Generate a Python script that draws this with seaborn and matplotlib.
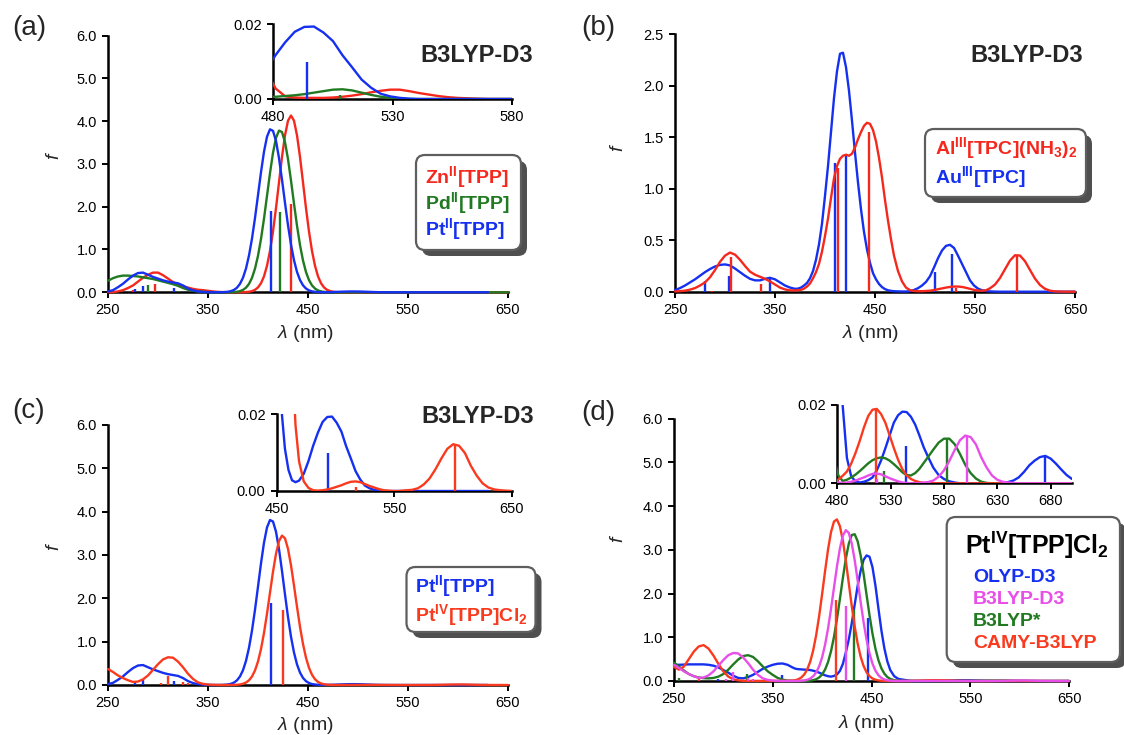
import numpy as np
import pandas as pd
import matplotlib
matplotlib.use("Agg")
import matplotlib.pyplot as plt
import seaborn as sns
from matplotlib.patches import FancyBboxPatch
from matplotlib.transforms import IdentityTransform

# ---------------- data ----------------
# wavelength sampling grid (nm) at which the spectra were read: 25 + 33 + 23 + 28 points
LAMBDA = np.concatenate([np.arange(250, 371, 5), np.arange(373, 470, 3),
                         np.arange(473, 562, 4), np.arange(565, 701, 5)]).astype(float)
NA = np.nan  # no computed value (spectrum not drawn there)

# (a) Zn(II)[TPP], Pd(II)[TPP], Pt(II)[TPP]  (Pt(II) also in (c))
ZN_TPP = [
    0.00, 0.005, 0.02, 0.05, 0.10,
    0.16, 0.25, 0.34, 0.41, 0.46,
    0.46, 0.40, 0.32, 0.24, 0.18,
    0.14, 0.11, 0.08, 0.06, 0.05,
    0.035, 0.02, 0.01, 0.005, 0.002,
    0.001, 0.001, 0.001, 0.001, 0.002, 0.005, 0.012, 0.027, 0.058, 0.114, 0.212,
    0.373, 0.620, 0.966, 1.419, 1.966, 2.568, 3.163, 3.668, 4.009, 4.130, 4.009,
    3.668, 3.163, 2.568, 1.966, 1.419, 0.966, 0.620, 0.373, 0.212, 0.114, 0.058,
    0.021, 0.0075, 0.0028, 0.0007, 0.0004, 0.0003, 0.0003, 0.0003,
    0.0004, 0.0006, 0.0009, 0.0013, 0.0018, 0.0022, 0.0025, 0.0025,
    0.0021, 0.0016, 0.0012, 0.0008, 0.0005, 0.0003, 0.0002,
    0.0001, 0, 0, 0, 0, 0, 0,
    0, 0, 0, 0, 0, 0, 0,
    0, 0, 0, 0, 0, 0, 0,
    0, 0, 0, 0, 0, 0, 0,
]
PD_TPP = [
    0.27, 0.33, 0.37, 0.39, 0.39,
    0.38, 0.37, 0.35, 0.33, 0.31,
    0.28, 0.25, 0.22, 0.19, 0.15,
    0.10, 0.06, 0.035, 0.02, 0.01,
    0.005, 0.002, 0.001, 0.001, 0.001,
    0.0023, 0.0056, 0.0127, 0.0274, 0.0557, 0.108, 0.196, 0.338, 0.553, 0.853, 1.246,
    1.722, 2.252, 2.785, 3.259, 3.608, 3.778, 3.744, 3.509, 3.112, 2.611, 2.072,
    1.556, 1.105, 0.743, 0.472, 0.284, 0.161, 0.087, 0.044, 0.021, 0.0097, 0.0042,
    0.0014, 0.0006, 0.0006, 0.0008, 0.0010, 0.0013, 0.0017, 0.0021,
    0.0025, 0.0026, 0.0023, 0.0017, 0.0011, 0.0006, 0.0003, 0.0001,
    0, 0, 0, 0, 0, 0, 0,
    0, 0, 0, 0, 0, 0, 0,
    0, 0, 0, 0, 0, 0, 0,
    0, 0, 0, 0, 0, 0, 0,
    0, 0, 0, 0, 0, 0, 0,
]
PT_TPP = [
    0.02, 0.05, 0.12, 0.20, 0.30,
    0.39, 0.45, 0.46, 0.41, 0.36,
    0.32, 0.28, 0.25, 0.23, 0.21,
    0.16, 0.09, 0.045, 0.02, 0.008,
    0.003, 0.001, 0.001, 0.003, 0.013,
    0.0276, 0.0562, 0.108, 0.198, 0.341, 0.557, 0.860, 1.256, 1.736, 2.269, 2.807,
    3.285, 3.636, 3.808, 3.773, 3.537, 3.136, 2.631, 2.088, 1.568, 1.114, 0.749,
    0.476, 0.287, 0.163, 0.088, 0.045, 0.0215, 0.011, 0.0055, 0.0028, 0.0023, 0.0027,
    0.0045, 0.0078, 0.0118, 0.0152, 0.0180, 0.0193, 0.0194, 0.0178,
    0.0155, 0.0117, 0.0085, 0.0052, 0.0030, 0.0014, 0.0007, 0.0003,
    0.0001, 0, 0, 0, 0, 0, 0,
    0, 0, 0, 0, 0, 0, 0,
    0, 0, 0, 0, 0, 0, 0,
    NA, NA, NA, NA, NA, NA, NA,
    NA, NA, NA, NA, NA, NA, NA,
]

# (b) Al(III)[TPC](NH3)2 and Au(III)[TPC]
AL_TPC = [
    0.003, 0.005, 0.01, 0.02, 0.035,
    0.06, 0.09, 0.14, 0.21, 0.29,
    0.35, 0.38, 0.36, 0.31, 0.25,
    0.195, 0.165, 0.145, 0.125, 0.10,
    0.07, 0.04, 0.022, 0.013, 0.012,
    0.014, 0.018, 0.03, 0.05, 0.08, 0.13, 0.19, 0.27, 0.39, 0.54, 0.71,
    0.91, 1.10, 1.22, 1.29, 1.32, 1.33, 1.32, 1.34, 1.40, 1.48, 1.55,
    1.61, 1.64, 1.63, 1.57, 1.46, 1.30, 1.11, 0.89, 0.69, 0.51, 0.35,
    0.20, 0.10, 0.04, 0.015, 0.007, 0.005, 0.005, 0.007,
    0.01, 0.016, 0.024, 0.032, 0.040, 0.046, 0.05, 0.05,
    0.046, 0.038, 0.028, 0.018, 0.011, 0.009, 0.014,
    0.033, 0.069, 0.133, 0.218, 0.302, 0.354, 0.351,
    0.296, 0.211, 0.127, 0.065, 0.028, 0.010, 0.003,
    0.001, 0, 0, 0, 0, 0, 0,
    0, 0, 0, 0, 0, 0, 0,
]
AU_TPC = [
    0.016, 0.035, 0.06, 0.09, 0.12,
    0.155, 0.19, 0.22, 0.245, 0.26,
    0.265, 0.255, 0.225, 0.19, 0.155,
    0.125, 0.11, 0.11, 0.125, 0.135,
    0.12, 0.09, 0.06, 0.04, 0.028,
    0.03, 0.04, 0.06, 0.085, 0.13, 0.20, 0.31, 0.46, 0.66, 0.93, 1.22,
    1.55, 1.88, 2.14, 2.31, 2.32, 2.18, 1.95, 1.66, 1.35, 1.06, 0.80,
    0.58, 0.41, 0.28, 0.18, 0.12, 0.075, 0.045, 0.025, 0.014, 0.008, 0.005,
    0.003, 0.002, 0.002, 0.005, 0.017, 0.034, 0.06, 0.095,
    0.15, 0.235, 0.325, 0.40, 0.445, 0.455, 0.425, 0.35,
    0.27, 0.19, 0.11, 0.06, 0.03, 0.014, 0.007,
    0.003, 0.001, 0, 0, 0, 0, 0,
    0, 0, 0, 0, 0, 0, 0,
    0, 0, 0, 0, 0, 0, 0,
    0, 0, 0, 0, 0, 0, 0,
]

# (c)/(d) Pt(IV)[TPP]Cl2 with B3LYP-D3
PT4_B3LYPD3 = [
    0.37, 0.30, 0.22, 0.16, 0.11,
    0.07, 0.08, 0.13, 0.22, 0.35,
    0.48, 0.59, 0.64, 0.63, 0.54,
    0.41, 0.26, 0.14, 0.06, 0.025,
    0.01, 0.004, 0.001, 0.001, 0.001,
    0.001, 0.0025, 0.0059, 0.0132, 0.0282, 0.057, 0.109, 0.196, 0.336, 0.543, 0.830,
    1.202, 1.646, 2.132, 2.613, 3.029, 3.322, 3.447, 3.384, 3.143, 2.761, 2.295,
    1.805, 1.343, 0.945, 0.629, 0.396, 0.236, 0.133, 0.071, 0.0358, 0.0171, 0.0077,
    0.0025, 0.0008, 0.0002, 0.0001, 0.0002, 0.0004, 0.0007, 0.0011,
    0.0015, 0.0020, 0.0024, 0.0025, 0.0023, 0.0018, 0.0013, 0.0009,
    0.0005, 0.0002, 0.0001, 0, 0, 0.0001, 0.0002,
    0.0003, 0.0007, 0.0017, 0.0033, 0.0057, 0.0085, 0.0110,
    0.0122, 0.0118, 0.0099, 0.0066, 0.0040, 0.0020, 0.0009,
    0.0004, 0.0002, 0.0001, 0, 0, 0, 0,
    0, 0, 0, 0, 0, 0, 0,
]

# (d) Pt(IV)[TPP]Cl2 with other functionals
PT4_OLYPD3 = [
    0.37, 0.37, 0.375, 0.38, 0.38,
    0.38, 0.38, 0.37, 0.35, 0.31,
    0.25, 0.19, 0.12, 0.07, 0.06,
    0.09, 0.14, 0.21, 0.28, 0.33,
    0.37, 0.395, 0.40, 0.37, 0.31,
    0.28, 0.27, 0.265, 0.26, 0.255, 0.25, 0.235, 0.215, 0.19, 0.16, 0.13,
    0.11, 0.10, 0.115, 0.15, 0.23, 0.39, 0.65, 0.95, 1.32, 1.75, 2.18,
    2.52, 2.77, 2.87, 2.84, 2.60, 2.18, 1.66, 1.16, 0.75, 0.45, 0.25,
    0.11, 0.05, 0.033, 0.020, 0.0065, 0.0018, 0.0005, 0.0002,
    0.0004, 0.0008, 0.0015, 0.0033, 0.0058, 0.0089, 0.0122, 0.0155,
    0.0174, 0.0183, 0.0182, 0.0170, 0.0150, 0.0122, 0.0092,
    0.0068, 0.0040, 0.0021, 0.0011, 0.0005, 0.0002, 0,
    0, 0, 0, 0, 0, 0, 0,
    0.0001, 0.0003, 0.0007, 0.0015, 0.0029, 0.0046, 0.0058,
    0.0067, 0.0070, 0.0063, 0.0050, 0.0035, 0.0021, 0.0011,
]
PT4_B3LYPS = [
    0.42, 0.33, 0.24, 0.16, 0.11,
    0.08, 0.065, 0.06, 0.07, 0.10,
    0.16, 0.26, 0.38, 0.49, 0.57,
    0.59, 0.55, 0.45, 0.33, 0.22,
    0.14, 0.07, 0.03, 0.01, 0.005,
    0.003, 0.002, 0.002, 0.002, 0.004, 0.0091, 0.020, 0.0413, 0.0808, 0.149, 0.262,
    0.433, 0.679, 1.007, 1.412, 1.874, 2.353, 2.794, 3.139, 3.337, 3.355, 3.192,
    2.873, 2.446, 1.970, 1.501, 1.082, 0.738, 0.476, 0.291, 0.168, 0.0917, 0.0474,
    0.018, 0.0062, 0.0020, 0.0006, 0.0009, 0.0015, 0.0022, 0.0031,
    0.0041, 0.0051, 0.0059, 0.0064, 0.0066, 0.0064, 0.0058, 0.0049,
    0.0039, 0.0028, 0.0021, 0.0020, 0.0026, 0.0037, 0.0052,
    0.0067, 0.0086, 0.0104, 0.0114, 0.0114, 0.0100, 0.0075,
    0.0047, 0.0026, 0.0012, 0.0004, 0.0001, 0, 0,
    0, 0, 0, 0, 0, 0, 0,
    0, 0, 0, 0, 0, 0, 0,
]
PT4_CAMY = [
    0.32, 0.26, 0.33, 0.50, 0.67,
    0.79, 0.82, 0.74, 0.58, 0.39,
    0.22, 0.10, 0.04, 0.015, 0.005,
    0.002, 0.002, 0.002, 0.002, 0.002,
    0.002, 0.002, 0.002, 0.004, 0.01,
    0.0198, 0.0413, 0.0814, 0.152, 0.267, 0.446, 0.705, 1.053, 1.487, 1.988, 2.514,
    3.008, 3.404, 3.645, 3.693, 3.539, 3.209, 2.752, 2.233, 1.715, 1.245, 0.856,
    0.556, 0.342, 0.199, 0.110, 0.057, 0.028, 0.0131, 0.0058, 0.0024, 0.0009, 0.0003,
    0.0002, 0.0005, 0.0010, 0.0019, 0.0030, 0.0050, 0.0077, 0.0108,
    0.0143, 0.0172, 0.0188, 0.0190, 0.0177, 0.0155, 0.0123, 0.0090,
    0.0060, 0.0036, 0.0020, 0.0011, 0.0006, 0.0003, 0.0001,
    0, 0, 0, 0, 0, 0, 0,
    0, 0, 0, 0, 0, 0, 0,
    0, 0, 0, 0, 0, 0, 0,
    0, 0, 0, 0, 0, 0, 0,
]

# stick spectra (transition wavelength, oscillator strength)
ZN_STK_X, ZN_STK_F = [275, 297, 433, 531], [0.06, 0.19, 2.06, 0.0008]
PD_STK_X, PD_STK_F = [290, 321, 422, 508], [0.16, 0.03, 1.88, 0.0012]
PT_STK_X, PT_STK_F = [277, 285, 316, 413, 494], [0.08, 0.14, 0.09, 1.89, 0.0100]
AL_STK_X, AL_STK_F = [287, 306, 336, 413, 444, 531, 592], [0.01, 0.34, 0.07, 1.20, 1.55, 0.04, 0.35]
AU_STK_X, AU_STK_F = [280, 304, 345, 410, 421, 510, 527], [0.10, 0.15, 0.14, 1.25, 1.32, 0.19, 0.37]
PT4D3_STK_X, PT4D3_STK_F = [303, 310, 325, 330, 424.5, 517, 601.3], [0.05, 0.20, 0.06, 0.04, 1.72, 0.0011, 0.0122]
CAMY_STK_X, CAMY_STK_F = [275, 414.2, 516], [0.08, 1.85, 0.0190]
B3S_STK_X, B3S_STK_F = [255, 324, 431.8, 524, 583.2], [0.08, 0.15, 1.62, 0.0031, 0.0114]
OLYP_STK_X, OLYP_STK_F = [295, 359, 446.3, 544, 675], [0.05, 0.14, 1.43, 0.0094, 0.0069]

# tick labels
X_TICKS_MAIN = [250, 350, 450, 550, 650]
Y_TICKS_6 = [0, 1, 2, 3, 4, 5, 6]
Y_TICKS_25 = [0, 0.5, 1.0, 1.5, 2.0, 2.5]
Y_TICKS_INSET = [0, 0.02]
X_TICKS_INSET_A = [480, 530, 580]
X_TICKS_INSET_C = [450, 550, 650]
X_TICKS_INSET_D = [480, 530, 580, 630, 680]

RED = "#F5281E"
RED2 = "#FA3A1E"
GREEN = "#217A21"
BLUE = "#1530F0"
MAGENTA = "#E84EE8"

# ---------------- style ----------------
sns.set_style("ticks")
plt.rcParams["font.family"] = ["Liberation Sans", "DejaVu Sans"]
plt.rcParams["mathtext.fontset"] = "custom"
plt.rcParams["mathtext.rm"] = "Liberation Sans"
plt.rcParams["mathtext.it"] = "Liberation Sans:italic"
plt.rcParams["mathtext.bf"] = "Liberation Sans:bold"

FW, FH = 1124, 735
fig = plt.figure(figsize=(FW / 100, FH / 100), dpi=100)
fig.patch.set_facecolor("white")


def px(x, y):
    return x / FW, 1 - y / FH


def add_axes(x0, x1, ytop, ybot):
    return fig.add_axes([x0 / FW, 1 - ybot / FH, (x1 - x0) / FW, (ybot - ytop) / FH])


def style(ax, xlim, ylim, xticks, yticks, yfmt):
    ax.set_xlim(*xlim)
    ax.set_ylim(*ylim)
    ax.set_xticks(xticks)
    ax.set_xticklabels([str(t) for t in xticks])
    ax.set_yticks(yticks)
    ax.set_yticklabels([yfmt.format(t) for t in yticks])
    for s in ["top", "right"]:
        ax.spines[s].set_visible(False)
    for s in ["left", "bottom"]:
        ax.spines[s].set_linewidth(1.8)
        ax.spines[s].set_color("black")
    ax.tick_params(direction="out", length=4, width=1.4, labelsize=10.5, pad=4,
                   colors="black")
    ax.set_facecolor("none")
    ax.set_xlabel("")
    ax.set_ylabel("")


def curve(ax, values, color, main):
    lam = LAMBDA
    y = np.asarray(values, float)
    keep = ~np.isnan(y)
    if main:
        keep &= lam <= 650
    df = pd.DataFrame({"wavelength": lam[keep], "f": y[keep]})
    sns.lineplot(data=df, x="wavelength", y="f", ax=ax, color=color, linewidth=1.7,
                 estimator=None, sort=False, legend=False, clip_on=not main, zorder=3)


def sticks(ax, xs, fs, color):
    ax.vlines(xs, 0, fs, colors=color, linewidth=1.7, zorder=3)


def legend_box(x0, y0, x1, y1, r=9, sh=6):
    shadow = FancyBboxPatch((x0 + sh, FH - y1 - sh), x1 - x0, y1 - y0,
                            boxstyle=f"round,pad=0,rounding_size={r}",
                            transform=IdentityTransform(), facecolor="#4f4f4f",
                            edgecolor="none", zorder=5)
    box = FancyBboxPatch((x0, FH - y1), x1 - x0, y1 - y0,
                         boxstyle=f"round,pad=0,rounding_size={r}",
                         transform=IdentityTransform(), facecolor="white",
                         edgecolor="#5e5e5e", linewidth=1.6, zorder=6)
    fig.add_artist(shadow)
    fig.add_artist(box)


def label(x, y, s, **kw):
    kw.setdefault("ha", "left")
    kw.setdefault("va", "center")
    fig.text(*px(x, y), s, zorder=7, **kw)


# ---------------- panel (a) ----------------
axA = add_axes(108, 508, 35.5, 292.3)
axAi = add_axes(273.3, 512, 24.3, 99)
for ax, main in [(axA, True), (axAi, False)]:
    for vals, sx, sf, col in [(ZN_TPP, ZN_STK_X, ZN_STK_F, RED),
                              (PD_TPP, PD_STK_X, PD_STK_F, GREEN),
                              (PT_TPP, PT_STK_X, PT_STK_F, BLUE)]:
        sticks(ax, sx, sf, col)
        curve(ax, vals, col, main)
style(axA, (250, 650), (0, 6), X_TICKS_MAIN, Y_TICKS_6, "{:.1f}")
style(axAi, (480, 580), (0, 0.02), X_TICKS_INSET_A, Y_TICKS_INSET, "{:.2f}")

# ---------------- panel (b) ----------------
axB = add_axes(675, 1075, 34.2, 291.7)
for vals, sx, sf, col in [(AU_TPC, AU_STK_X, AU_STK_F, BLUE),
                          (AL_TPC, AL_STK_X, AL_STK_F, RED)]:
    sticks(axB, sx, sf, col)
    curve(axB, vals, col, True)
style(axB, (250, 650), (0, 2.5), X_TICKS_MAIN, Y_TICKS_25, "{:.1f}")

# ---------------- panel (c) ----------------
axC = add_axes(108, 508, 425, 685)
axCi = add_axes(276.7, 512, 414.3, 491)
for ax, main in [(axC, True), (axCi, False)]:
    for vals, sx, sf, col in [(PT_TPP, PT_STK_X, PT_STK_F, BLUE),
                              (PT4_B3LYPD3, PT4D3_STK_X, PT4D3_STK_F, RED2)]:
        sticks(ax, sx, sf, col)
        curve(ax, vals, col, main)
style(axC, (250, 650), (0, 6), X_TICKS_MAIN, Y_TICKS_6, "{:.1f}")
style(axCi, (450, 650), (0, 0.02), X_TICKS_INSET_C, Y_TICKS_INSET, "{:.2f}")

# ---------------- panel (d) ----------------
axD = add_axes(674, 1069, 418.5, 681)
axDi = add_axes(837.3, 1072, 405, 483.3)
for ax, main in [(axD, True), (axDi, False)]:
    for vals, sx, sf, col in [(PT4_OLYPD3, OLYP_STK_X, OLYP_STK_F, BLUE),
                              (PT4_B3LYPS, B3S_STK_X, B3S_STK_F, GREEN),
                              (PT4_CAMY, CAMY_STK_X, CAMY_STK_F, RED2),
                              (PT4_B3LYPD3, PT4D3_STK_X, PT4D3_STK_F, MAGENTA)]:
        sticks(ax, sx, sf, col)
        curve(ax, vals, col, main)
style(axD, (250, 650), (0, 6), X_TICKS_MAIN, Y_TICKS_6, "{:.1f}")
style(axDi, (480, 700), (0, 0.02), X_TICKS_INSET_D, Y_TICKS_INSET, "{:.2f}")

# ---------------- texts ----------------
for x, y, s in [(29.5, 28, "(a)"), (598, 28, "(b)"), (28.5, 411, "(c)"), (598, 413, "(d)")]:
    label(x, y, s, fontsize=20, ha="center")
for x, y in [(54, 156), (617.5, 148), (54, 547), (617.5, 539)]:
    label(x, y, "f", fontsize=14, style="italic", rotation=90, ha="center")
for x, y in [(305, 333), (870, 333), (305, 725), (866, 723)]:
    label(x, y, r"$\lambda$ (nm)", fontsize=14, ha="center")
for x, y in [(420, 55), (970, 55), (421, 416)]:
    label(x, y, "B3LYP-D3", fontsize=17, fontweight="bold")

# legends
legend_box(416, 155, 521, 250)
label(425, 177.5, r"$\mathbf{Zn^{II}[TPP]}$", fontsize=14, color=RED)
label(425, 203, r"$\mathbf{Pd^{II}[TPP]}$", fontsize=14, color=GREEN)
label(425, 229, r"$\mathbf{Pt^{II}[TPP]}$", fontsize=14, color=BLUE)

legend_box(925, 129, 1086, 197)
label(935, 148, r"$\mathbf{Al^{III}[TPC](NH_{3})_{2}}$", fontsize=14, color=RED)
label(935, 177, r"$\mathbf{Au^{III}[TPC]}$", fontsize=14, color=BLUE)

legend_box(406.5, 567, 535.5, 632)
label(415, 586, r"$\mathbf{Pt^{II}[TPP]}$", fontsize=14, color=BLUE)
label(415, 615, r"$\mathbf{Pt^{IV}[TPP]Cl_{2}}$", fontsize=14, color=RED2)

legend_box(946.7, 517, 1120, 662)
label(965, 545, r"$\mathbf{Pt^{IV}[TPP]Cl_{2}}$", fontsize=18, color="black")
label(973, 577, "OLYP-D3", fontsize=14, fontweight="bold", color=BLUE)
label(973, 599, "B3LYP-D3", fontsize=14, fontweight="bold", color=MAGENTA)
label(973, 621, "B3LYP*", fontsize=14, fontweight="bold", color=GREEN)
label(973, 643, "CAMY-B3LYP", fontsize=14, fontweight="bold", color=RED2)

fig.savefig("out.png", dpi=100, facecolor="white")
